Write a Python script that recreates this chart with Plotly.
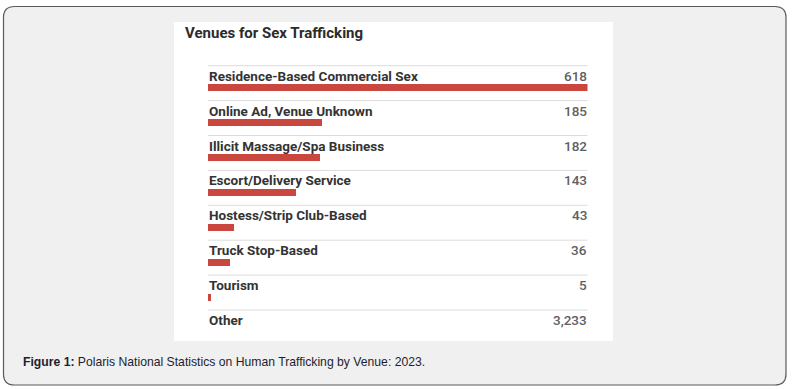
import plotly.graph_objects as go

W, H = 798, 389

title_text = "Venues for Sex Trafficking"
venues = [
    "Residence-Based Commercial Sex",
    "Online Ad, Venue Unknown",
    "Illicit Massage/Spa Business",
    "Escort/Delivery Service",
    "Hostess/Strip Club-Based",
    "Truck Stop-Based",
    "Tourism",
    "Other",
]
counts = [618, 185, 182, 143, 43, 36, 5, 3233]
show_bar = [True, True, True, True, True, True, True, False]
caption_bold = "Figure 1:"
caption_rest = " Polaris National Statistics on Human Trafficking by Venue: 2023."

BAR_COLOR = "#c9473f"
LABEL_FONT = "Roboto, Liberation Sans, Arial, sans-serif"

# layout (pixels)
sep0, row_h = 65.7, 34.9
bar_x0, bar_x1 = 208, 587.5
max_val = max(c for c, s in zip(counts, show_bar) if s)

def py(y):
    return 1 - y / H

def px(x):
    return x / W

fig = go.Figure()

bar_y = [sep0 + row_h * i + 22 for i in range(len(venues))]
fig.add_trace(go.Bar(
    x=[c for c, s in zip(counts, show_bar) if s],
    y=[b for b, s in zip(bar_y, show_bar) if s],
    orientation="h",
    width=7,
    marker=dict(color=BAR_COLOR, line=dict(width=0)),
    hoverinfo="skip",
    showlegend=False,
))

shapes = []
# outer rounded frame
x0, y0, x1, y1, r = 3.5, 6.5, 786.0, 385.0, 11
path = (
    f"M {px(x0 + r)},{py(y0)} L {px(x1 - r)},{py(y0)} "
    f"Q {px(x1)},{py(y0)} {px(x1)},{py(y0 + r)} "
    f"L {px(x1)},{py(y1 - r)} Q {px(x1)},{py(y1)} {px(x1 - r)},{py(y1)} "
    f"L {px(x0 + r)},{py(y1)} Q {px(x0)},{py(y1)} {px(x0)},{py(y1 - r)} "
    f"L {px(x0)},{py(y0 + r)} Q {px(x0)},{py(y0)} {px(x0 + r)},{py(y0)} Z"
)
shapes.append(dict(type="path", xref="paper", yref="paper", path=path,
                   fillcolor="#eff0ef", line=dict(color="#5a5a5a", width=1.2),
                   layer="below"))
# white panel
shapes.append(dict(type="rect", xref="paper", yref="paper",
                   x0=px(174), x1=px(613), y0=py(341), y1=py(22),
                   fillcolor="#ffffff", line=dict(width=0), layer="below"))
# separators
for i in range(len(venues)):
    ys = sep0 + row_h * i
    shapes.append(dict(type="line", xref="paper", yref="y",
                       x0=px(bar_x0), x1=px(bar_x1), y0=ys, y1=ys,
                       line=dict(color="#dcdcdc", width=1), layer="below"))

annotations = []
annotations.append(dict(text=f"<b>{title_text}</b>", xref="paper", yref="paper",
                        x=px(183), y=py(33), xanchor="left", yanchor="middle",
                        showarrow=False,
                        font=dict(family=LABEL_FONT, size=15, color="#2b2b2b")))
for i, (v, c) in enumerate(zip(venues, counts)):
    yc = sep0 + row_h * i + 10
    annotations.append(dict(text=f"<b>{v}</b>", xref="paper", yref="y",
                            x=px(bar_x0 - 1), y=yc, xanchor="left", yanchor="middle",
                            showarrow=False,
                            font=dict(family=LABEL_FONT, size=13.5, color="#333333")))
    annotations.append(dict(text=f"{c:,}", xref="paper", yref="y",
                            x=px(bar_x1 + 1), y=yc, xanchor="right", yanchor="middle",
                            showarrow=False,
                            font=dict(family=LABEL_FONT, size=13.5, color="#606060",
                                      weight=500)))
annotations.append(dict(text=f"<b>{caption_bold}</b>{caption_rest}",
                        xref="paper", yref="paper", x=px(21), y=py(362),
                        xanchor="left", yanchor="middle", showarrow=False,
                        font=dict(family="Liberation Sans, Arial, sans-serif",
                                  size=12.2, color="#1e1e2e")))

fig.update_layout(
    width=W, height=H,
    margin=dict(l=0, r=0, t=0, b=0),
    paper_bgcolor="#ffffff",
    plot_bgcolor="rgba(0,0,0,0)",
    xaxis=dict(domain=[px(bar_x0), px(bar_x1)], range=[0, max_val],
               visible=False, fixedrange=True),
    yaxis=dict(domain=[0, 1], range=[H, 0], visible=False, fixedrange=True),
    shapes=shapes,
    annotations=annotations,
    bargap=0,
)

fig.write_html("out.html",
               config={"displayModeBar": False, "staticPlot": True},
               post_script="document.body.style.margin='0';document.body.style.overflow='hidden';")
